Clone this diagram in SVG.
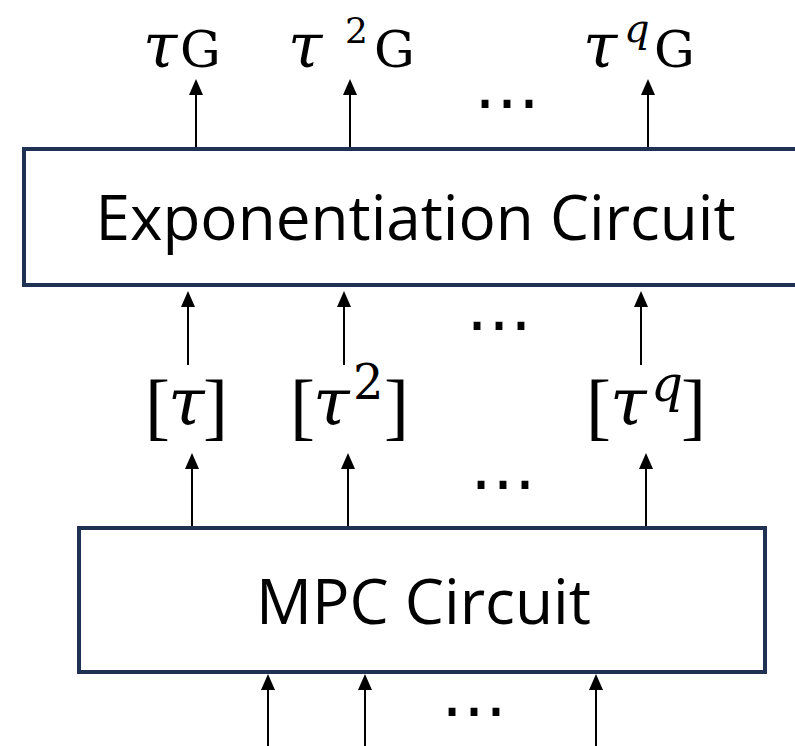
<svg xmlns="http://www.w3.org/2000/svg" width="795" height="746" viewBox="0 0 795 746">
<style>
.box{fill:#fff;stroke:#1f3253;stroke-width:4}
.lbl{font-family:"Open Sans","Noto Sans",sans-serif;fill:#000;text-anchor:middle}
.m{font-family:"DejaVu Serif","Liberation Serif",serif;fill:#000}
.b{font-family:"Liberation Serif",serif}
.i{font-style:italic}
.dots{font-family:"DejaVu Sans",sans-serif;font-size:66px;fill:#000;text-anchor:middle}
.arr{stroke:#000;stroke-width:2;fill:none;marker-end:url(#ah)}
</style>
<defs>
<marker id="ah" markerUnits="userSpaceOnUse" markerWidth="16" markerHeight="14" refX="10" refY="7" orient="auto">
<path d="M0,0 L16,7 L0,14 z" fill="#000"/>
</marker>
</defs>
<rect width="795" height="746" fill="#fff"/>
<g id="exp-circuit">
<rect class="box" x="24" y="149" width="800" height="136"/>
<text class="lbl" x="415.5" y="240" font-size="63" textLength="640" lengthAdjust="spacingAndGlyphs">Exponentiation Circuit</text>
</g>
<g id="mpc-circuit">
<rect class="box" x="79" y="528" width="686" height="144"/>
<text class="lbl" x="423.5" y="624" font-size="63" textLength="335" lengthAdjust="spacingAndGlyphs">MPC Circuit</text>
</g>
<g id="out-labels">
<text class="m" y="67" font-size="51"><tspan x="143" font-size="62" class="i">τ</tspan><tspan x="180">G</tspan></text>
<text class="m" y="67" font-size="51"><tspan x="288" font-size="62" class="i">τ</tspan><tspan x="345" y="43" font-size="36">2</tspan><tspan x="374" y="67">G</tspan></text>
<text class="m" y="67" font-size="51"><tspan x="583" font-size="62" class="i">τ</tspan><tspan x="624" y="42" font-size="40" class="i">q</tspan><tspan x="654" y="67">G</tspan></text>
</g>
<g id="share-labels">
<text class="m" y="431" font-size="75"><tspan x="145" class="b">[</tspan><tspan x="168" y="425" font-size="66" class="i">τ</tspan><tspan x="203" y="431" class="b">]</tspan></text>
<text class="m" y="431" font-size="75"><tspan x="290" class="b">[</tspan><tspan x="313" y="425" font-size="66" class="i">τ</tspan><tspan x="353" y="399" font-size="48">2</tspan><tspan x="384" y="431" class="b">]</tspan></text>
<text class="m" y="431" font-size="75"><tspan x="586" class="b">[</tspan><tspan x="610" y="425" font-size="66" class="i">τ</tspan><tspan x="651" y="401" font-size="50" class="i">q</tspan><tspan x="681" y="431" class="b">]</tspan></text>
</g>
<g id="ellipses">
<text class="dots" x="507" y="108">…</text>
<text class="dots" x="499" y="330">…</text>
<text class="dots" x="503" y="489">…</text>
<text class="dots" x="474" y="716">…</text>
</g>
<g id="connectors">
<line class="arr" x1="196" y1="147" x2="196" y2="85"/>
<line class="arr" x1="350" y1="147" x2="350" y2="85"/>
<line class="arr" x1="648" y1="147" x2="648" y2="85"/>
<line class="arr" x1="188" y1="365" x2="188" y2="297"/>
<line class="arr" x1="344" y1="365" x2="344" y2="297"/>
<line class="arr" x1="641" y1="365" x2="641" y2="297"/>
<line class="arr" x1="192" y1="526" x2="192" y2="459"/>
<line class="arr" x1="348" y1="526" x2="348" y2="459"/>
<line class="arr" x1="646" y1="526" x2="646" y2="459"/>
<line class="arr" x1="268" y1="746" x2="268" y2="680"/>
<line class="arr" x1="365" y1="746" x2="365" y2="680"/>
<line class="arr" x1="596" y1="746" x2="596" y2="680"/>
</g>
</svg>
